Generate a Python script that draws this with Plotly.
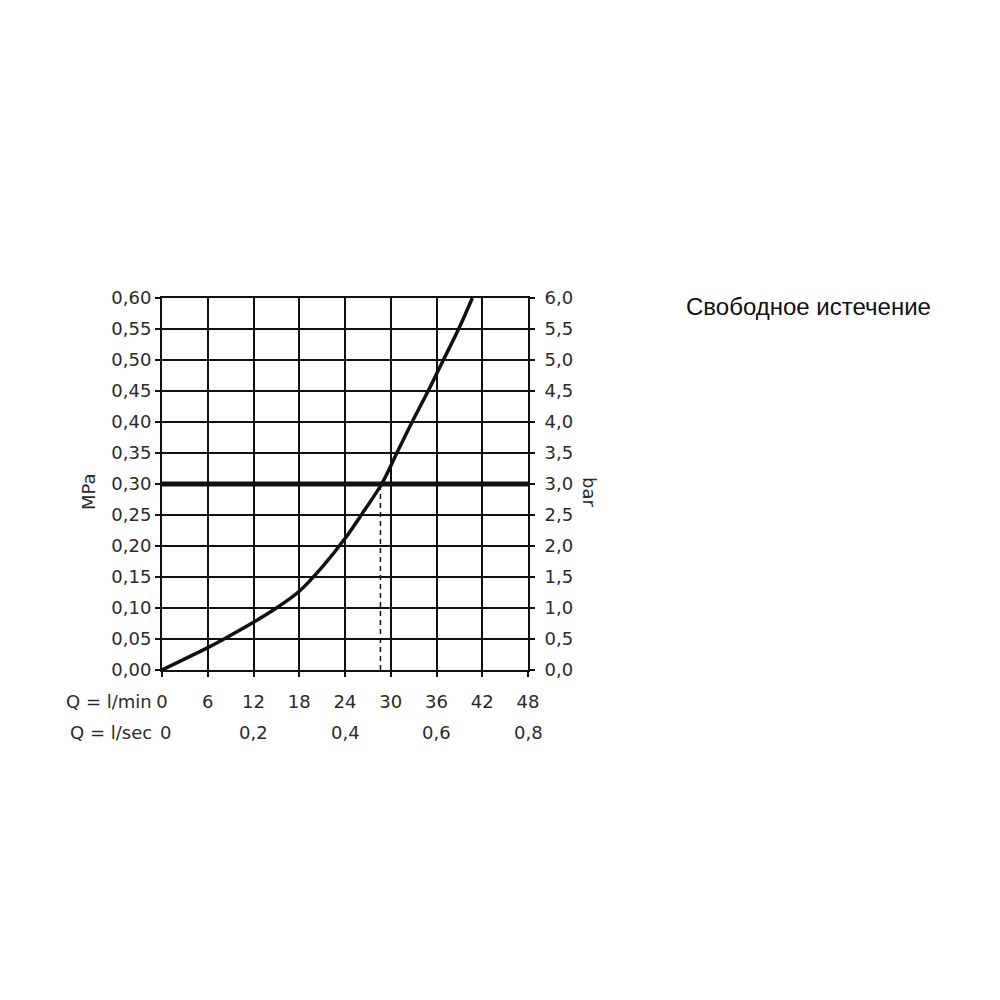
import plotly.graph_objects as go

# Flow (l/min) vs pressure (MPa)
flow_lmin = [0, 3, 6, 9, 12, 15, 18, 21, 24, 26.4, 28.8, 30.8, 32.8, 34.9, 36.9, 38.9, 40.7]
pressure_mpa = [0, 0.018, 0.036, 0.056, 0.077, 0.100, 0.127, 0.166, 0.212, 0.255, 0.30, 0.35, 0.40, 0.45, 0.50, 0.55, 0.60]

ref_pressure = 0.30
ref_flow = 28.65

x_ticks = [0, 6, 12, 18, 24, 30, 36, 42, 48]
lsec_pos = [0, 12, 24, 36, 48]
lsec_labels = ["0", "0,2", "0,4", "0,6", "0,8"]
mpa_ticks = [0, 0.05, 0.10, 0.15, 0.20, 0.25, 0.30, 0.35, 0.40, 0.45, 0.50, 0.55, 0.60]
bar_ticks = [0, 0.5, 1.0, 1.5, 2.0, 2.5, 3.0, 3.5, 4.0, 4.5, 5.0, 5.5, 6.0]

title_text = "Свободное истечение"

FONT = "DejaVu Sans"
TC = "#2a2a2a"
FS = 18

fig = go.Figure()

# thick reference line at 0.30 MPa
fig.add_trace(go.Scatter(x=[x_ticks[0], x_ticks[-1]], y=[ref_pressure, ref_pressure],
                         mode="lines", line=dict(color="#111111", width=5),
                         showlegend=False, hoverinfo="skip", cliponaxis=False))
# dashed drop line
fig.add_trace(go.Scatter(x=[ref_flow, ref_flow], y=[0, ref_pressure],
                         mode="lines", line=dict(color="#111111", width=1.5, dash="5px,4px"),
                         showlegend=False, hoverinfo="skip"))
# curve
fig.add_trace(go.Scatter(x=flow_lmin, y=pressure_mpa, mode="lines",
                         line=dict(color="#111111", width=3.5, shape="spline", smoothing=1.0),
                         showlegend=False, cliponaxis=False))
# invisible trace on the bar axis
fig.add_trace(go.Scatter(x=[0], y=[0], yaxis="y2", mode="markers",
                         marker=dict(opacity=0), showlegend=False, hoverinfo="skip"))

axis_common = dict(showline=True, linecolor="#111111", linewidth=2,
                   showgrid=True, gridcolor="#111111", gridwidth=2,
                   ticks="outside", ticklen=5, tickwidth=2, tickcolor="#111111",
                   zeroline=False,
                   tickfont=dict(family=FONT, size=FS, color=TC))

fig.update_layout(
    width=1000, height=1000,
    margin=dict(l=154, r=480, t=290, b=338, pad=0),
    paper_bgcolor="white", plot_bgcolor="white",
    separators=",.",
    xaxis=dict(range=[0, 48], tickvals=x_ticks, ticktext=[str(v) for v in x_ticks],
               mirror=True, ticklabelstandoff=9, **axis_common),
    yaxis=dict(range=[0, 0.60], tickvals=mpa_ticks, tickformat=".2f",
               ticklabelstandoff=0, **axis_common),
    yaxis2=dict(range=[0, 6.0], tickvals=bar_ticks, tickformat=".1f", overlaying="y",
                side="right", showline=True, linecolor="#111111", linewidth=2,
                showgrid=False, ticks="outside", ticklen=5, tickwidth=2, tickcolor="#111111",
                zeroline=False, ticklabelstandoff=6,
                tickfont=dict(family=FONT, size=FS, color=TC)),
    showlegend=False,
)

ann = []
ann.append(dict(text="Q = l/min", xref="paper", yref="paper", x=0, y=0, xanchor="right",
                yanchor="middle", xshift=-8, yshift=-31, showarrow=False,
                font=dict(family=FONT, size=FS, color=TC)))
ann.append(dict(text="Q = l/sec", xref="paper", yref="paper", x=0, y=0, xanchor="right",
                yanchor="middle", xshift=-8, yshift=-62, showarrow=False,
                font=dict(family=FONT, size=FS, color=TC)))
for p, t in zip(lsec_pos, lsec_labels):
    ann.append(dict(text=t, xref="x", yref="paper", x=p, y=0, xanchor="center",
                    yanchor="middle", yshift=-62, xshift=(3 if p == 0 else 0), showarrow=False,
                    font=dict(family=FONT, size=FS, color=TC)))
ann.append(dict(text="MPa", xref="paper", yref="paper", x=0, y=0.5, xanchor="center",
                yanchor="middle", xshift=-74, yshift=-8, textangle=-90, showarrow=False,
                font=dict(family=FONT, size=FS, color=TC)))
ann.append(dict(text="bar", xref="paper", yref="paper", x=1, y=0.5, xanchor="center",
                yanchor="middle", xshift=62, yshift=-8, textangle=90, showarrow=False,
                font=dict(family=FONT, size=FS, color=TC)))
ann.append(dict(text=title_text, xref="paper", yref="paper", x=1, y=1, xanchor="left",
                yanchor="middle", xshift=156, yshift=-8, showarrow=False,
                font=dict(family="Liberation Sans", size=24, color="#111111")))
fig.update_layout(annotations=ann)

fig.write_html("out.html")
